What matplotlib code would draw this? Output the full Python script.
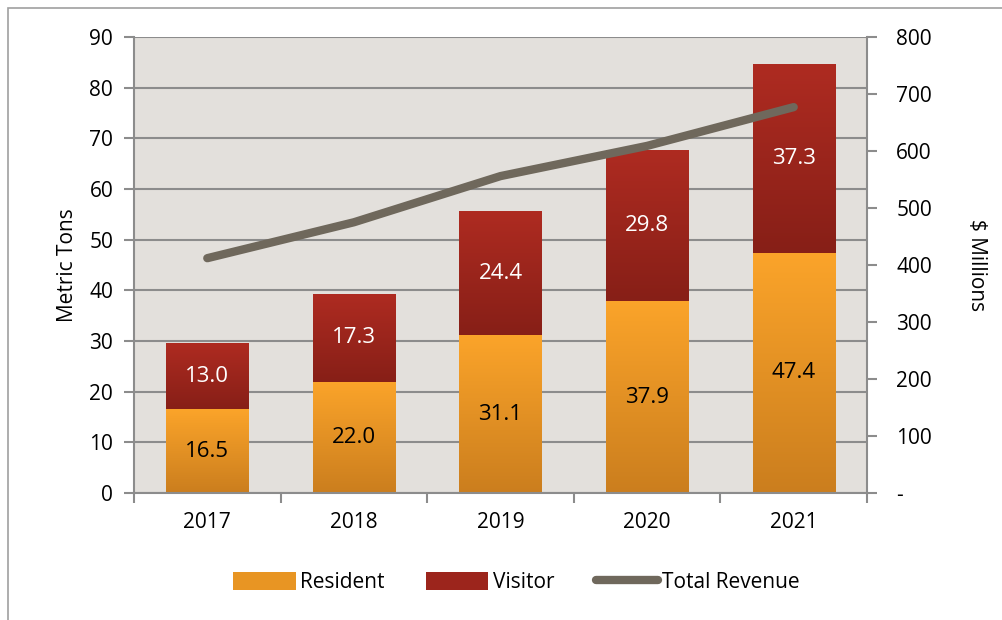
import numpy as np
import matplotlib.pyplot as plt
from matplotlib.patches import Rectangle
from matplotlib.lines import Line2D
from matplotlib.ticker import FuncFormatter, MultipleLocator

plt.rcParams['font.family'] = ['Open Sans', 'DejaVu Sans']

# data
years = ['2017', '2018', '2019', '2020', '2021']
resident = [16.5, 22.0, 31.1, 37.9, 47.4]
visitor = [13.0, 17.3, 24.4, 29.8, 37.3]
revenue = [412, 475, 556, 609, 677]

res_top, res_bot = '#FBA42A', '#CB7E1E'
vis_top, vis_bot = '#AE2B21', '#871F17'
line_col = '#6F685C'
grid_col = '#8C8C8C'
bg_col = '#E3E0DC'

fig = plt.figure(figsize=(10.03, 6.2), dpi=100)
fig.patches.append(Rectangle((0.008, -0.05), 1.2, 1.037, transform=fig.transFigure,
                             fill=False, edgecolor='#A0A0A0', lw=1.2))
ax = fig.add_axes([0.1336, 0.2048, 0.7308, 0.7355])
ax.set_facecolor(bg_col)
x = np.arange(len(years))
width = 0.56


def grad_bar(ax, xc, y0, h, c_top, c_bot):
    cmap = np.linspace(0, 1, 100)[:, None]
    top = np.array(plt.matplotlib.colors.to_rgb(c_top))
    bot = np.array(plt.matplotlib.colors.to_rgb(c_bot))
    img = top[None, None, :] * (1 - cmap[..., None]) + bot[None, None, :] * cmap[..., None]
    ax.imshow(img, extent=[xc - width / 2, xc + width / 2, y0, y0 + h],
              aspect='auto', origin='upper', zorder=2, interpolation='bilinear')


for i in range(len(years)):
    grad_bar(ax, x[i], 0, resident[i], res_top, res_bot)
    grad_bar(ax, x[i], resident[i], visitor[i], vis_top, vis_bot)
    ax.text(x[i], resident[i] / 2, f'{resident[i]:.1f}', ha='center', va='center',
            fontsize=16, color='black', zorder=5)
    ax.text(x[i], resident[i] + visitor[i] / 2, f'{visitor[i]:.1f}', ha='center',
            va='center', fontsize=16, color='white', zorder=5)

ax.set_xlim(-0.5, len(years) - 0.5)
ax.set_ylim(0, 90)
ax.yaxis.set_major_locator(MultipleLocator(10))
ax.grid(axis='y', color=grid_col, lw=1.5, zorder=1)
ax.set_axisbelow(True)
ax.set_xticks(x)
ax.set_xticklabels(years)
ax.set_xticks(np.arange(-0.5, len(years)), minor=True)
ax.tick_params(axis='x', which='major', length=0, pad=14, labelsize=15)
ax.tick_params(axis='x', which='minor', length=7, width=1.5, color=grid_col)
ax.tick_params(axis='y', length=7, width=1.5, color=grid_col, labelsize=15, pad=8)
ax.set_ylabel('Metric Tons', fontsize=15, labelpad=8)
for s in ['top', 'right']:
    ax.spines[s].set_visible(False)
for s in ['left', 'bottom']:
    ax.spines[s].set_color(grid_col)
    ax.spines[s].set_linewidth(1.5)

ax2 = ax.twinx()
ax2.plot(x, revenue, color=line_col, lw=6, solid_capstyle='round', zorder=4)
ax2.set_ylim(0, 800)
ax2.yaxis.set_major_locator(MultipleLocator(100))
ax2.yaxis.set_major_formatter(FuncFormatter(lambda v, p: '-' if v == 0 else f'{v:.0f}'))
ax2.tick_params(axis='y', length=7, width=1.5, color=grid_col, labelsize=15, pad=14)
ax2.set_ylabel('\\$ Millions', fontsize=15, rotation=270, labelpad=40)
for s in ['top', 'left', 'bottom']:
    ax2.spines[s].set_visible(False)
ax2.spines['right'].set_color(grid_col)
ax2.spines['right'].set_linewidth(1.5)

handles = [Rectangle((0, 0), 1, 1, facecolor='#E89523', edgecolor='none'),
           Rectangle((0, 0), 1, 1, facecolor='#9C251C', edgecolor='none'),
           Line2D([0], [0], color=line_col, lw=6, solid_capstyle='round')]
fig.legend(handles, ['Resident', 'Visitor', 'Total Revenue'], loc='center',
           bbox_to_anchor=(0.515, 0.06), ncol=3, frameon=False, fontsize=15,
           handlelength=3.0, handleheight=0.9, handletextpad=0.2, columnspacing=2.0)

fig.savefig('out.png', dpi=100)
